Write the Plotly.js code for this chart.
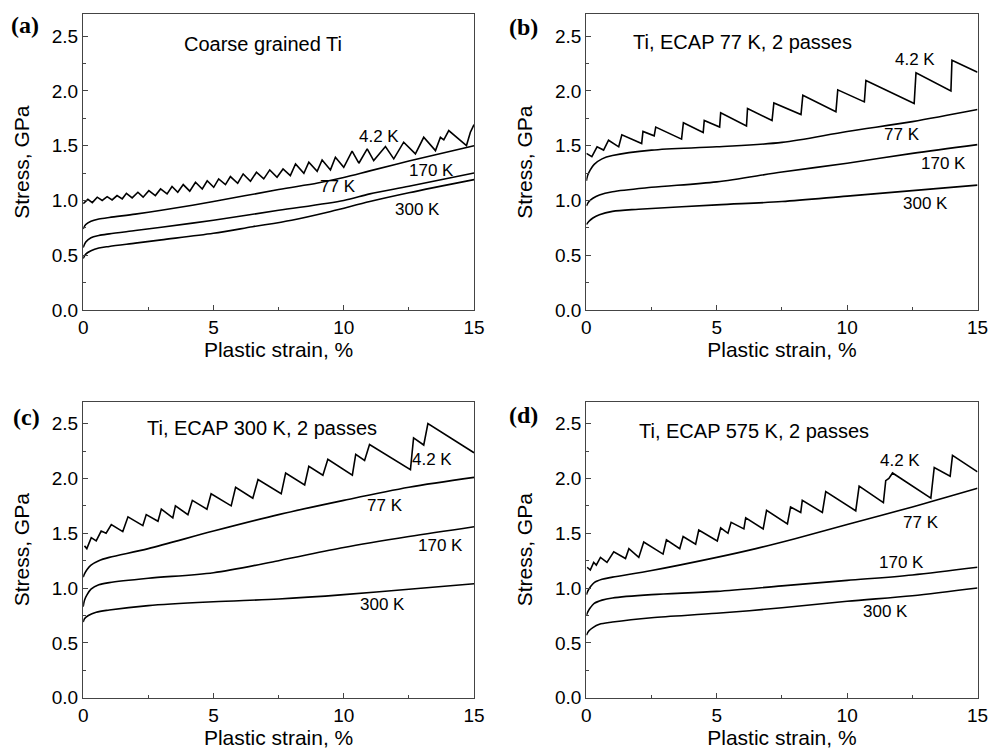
<!DOCTYPE html>
<html>
<head>
<meta charset="utf-8">
<script src="https://cdn.plot.ly/plotly-3.0.1.min.js"></script>
<style>html,body{margin:0;padding:0;background:#fff;}#chart{width:989px;height:752px;}</style>
</head>
<body>
<div id="chart"></div>
<script>
// ---------- Panel (a): Coarse grained Ti ----------
const a_x_300 = [0, 0.1, 0.3, 0.6, 1, 2, 3, 5, 6.5, 8, 9.5, 11, 12.5, 15];
const a_y_300 = [0.47, 0.51, 0.54, 0.565, 0.58, 0.61, 0.64, 0.70, 0.76, 0.82, 0.90, 0.99, 1.07, 1.19];
const a_x_170 = [0, 0.1, 0.3, 0.6, 1, 2, 3, 5, 7.5, 10, 11, 12.5, 15];
const a_y_170 = [0.57, 0.62, 0.66, 0.68, 0.695, 0.725, 0.755, 0.82, 0.91, 1.00, 1.06, 1.13, 1.25];
const a_x_77 = [0, 0.1, 0.3, 0.6, 1, 2, 3, 5, 7.5, 9, 10, 11, 12.5, 15];
const a_y_77 = [0.74, 0.78, 0.81, 0.83, 0.845, 0.875, 0.91, 0.99, 1.10, 1.16, 1.21, 1.27, 1.36, 1.50];
const a_x_4 = [0, 0.18, 0.35, 0.54, 0.73, 0.92, 1.11, 1.30, 1.50, 1.66, 1.88, 2.10, 2.30, 2.52, 2.77, 2.97, 3.22, 3.41, 3.63, 3.84, 4.09, 4.31, 4.57, 4.76, 5.01, 5.20, 5.46, 5.65, 5.93, 6.14, 6.42, 6.65, 6.93, 7.16, 7.44, 7.67, 7.95, 8.15, 8.47, 8.66, 8.98, 9.17, 9.49, 9.68, 10.0, 10.32, 10.58, 10.90, 11.15, 11.60, 11.92, 12.30, 12.75, 13.07, 13.52, 13.71, 13.84, 14.03, 14.71, 14.86, 15.0];
const a_y_4 = [0.97, 1.01, 0.98, 1.03, 1.00, 1.035, 1.005, 1.045, 1.015, 1.065, 1.023, 1.075, 1.03, 1.09, 1.045, 1.105, 1.06, 1.127, 1.075, 1.145, 1.085, 1.166, 1.105, 1.18, 1.12, 1.197, 1.145, 1.218, 1.157, 1.242, 1.175, 1.258, 1.197, 1.279, 1.212, 1.288, 1.227, 1.334, 1.248, 1.349, 1.267, 1.37, 1.279, 1.395, 1.303, 1.45, 1.34, 1.471, 1.364, 1.492, 1.38, 1.532, 1.425, 1.577, 1.455, 1.577, 1.553, 1.638, 1.501, 1.623, 1.693];

// ---------- Panel (b): Ti, ECAP 77 K, 2 passes ----------
const b_x_300 = [0, 0.1, 0.25, 0.5, 1, 2, 5, 7.5, 10, 12.5, 15];
const b_y_300 = [0.78, 0.81, 0.84, 0.87, 0.90, 0.92, 0.96, 0.99, 1.04, 1.09, 1.14];
const b_x_170 = [0, 0.1, 0.25, 0.5, 1, 2.5, 5, 7.5, 10, 12.5, 15];
const b_y_170 = [0.95, 0.99, 1.02, 1.05, 1.08, 1.12, 1.17, 1.26, 1.34, 1.43, 1.51];
const b_x_77 = [0, 0.05, 0.15, 0.3, 0.6, 1, 2.5, 5, 7.5, 10, 12.5, 15];
const b_y_77 = [1.18, 1.23, 1.28, 1.33, 1.38, 1.41, 1.46, 1.49, 1.53, 1.63, 1.72, 1.83];
const b_x_4 = [0, 0.21, 0.41, 0.66, 0.85, 1.24, 1.36, 2.12, 2.17, 2.60, 2.66, 3.65, 3.72, 4.48, 4.52, 5.11, 5.15, 6.14, 6.18, 7.12, 7.19, 8.23, 8.30, 9.57, 9.64, 10.66, 10.72, 12.57, 12.64, 13.98, 14.02, 15.0];
const b_y_4 = [1.43, 1.40, 1.49, 1.46, 1.55, 1.49, 1.60, 1.52, 1.63, 1.59, 1.67, 1.56, 1.71, 1.62, 1.73, 1.67, 1.80, 1.68, 1.84, 1.73, 1.89, 1.785, 1.96, 1.81, 2.01, 1.90, 2.095, 1.885, 2.165, 2.00, 2.28, 2.17];

// ---------- Panel (c): Ti, ECAP 300 K, 2 passes ----------
const c_x_300 = [0, 0.05, 0.2, 0.5, 1, 2.5, 5, 7.5, 10, 12.5, 15];
const c_y_300 = [0.69, 0.72, 0.75, 0.78, 0.80, 0.84, 0.875, 0.90, 0.94, 0.99, 1.04];
const c_x_170 = [0, 0.05, 0.15, 0.3, 0.6, 1, 2.5, 5, 7.5, 10, 12.5, 15];
const c_y_170 = [0.83, 0.89, 0.94, 0.99, 1.03, 1.05, 1.09, 1.14, 1.25, 1.37, 1.47, 1.56];
const c_x_77 = [0, 0.05, 0.15, 0.3, 0.6, 1, 2.5, 5, 7.5, 10, 12.5, 15];
const c_y_77 = [1.10, 1.13, 1.17, 1.21, 1.25, 1.28, 1.36, 1.52, 1.67, 1.80, 1.92, 2.01];
const c_x_4 = [0.05, 0.14, 0.31, 0.50, 0.69, 0.88, 1.08, 1.52, 1.72, 2.29, 2.42, 2.87, 3.00, 3.44, 3.54, 4.02, 4.19, 4.75, 4.91, 5.68, 5.85, 6.51, 6.71, 7.60, 7.77, 8.50, 8.66, 9.20, 9.39, 10.33, 10.46, 10.80, 10.99, 12.56, 12.68, 13.07, 13.23, 15.0];
const c_y_4 = [1.385, 1.36, 1.46, 1.43, 1.52, 1.50, 1.58, 1.515, 1.65, 1.57, 1.67, 1.61, 1.72, 1.64, 1.75, 1.67, 1.80, 1.72, 1.86, 1.75, 1.92, 1.82, 1.99, 1.86, 2.05, 1.94, 2.11, 2.03, 2.175, 2.03, 2.22, 2.165, 2.31, 2.08, 2.37, 2.305, 2.50, 2.235];

// ---------- Panel (d): Ti, ECAP 575 K, 2 passes ----------
const d_x_300 = [0, 0.1, 0.25, 0.5, 1, 2.5, 5, 7.5, 10, 12.5, 15];
const d_y_300 = [0.57, 0.61, 0.64, 0.67, 0.69, 0.73, 0.77, 0.82, 0.88, 0.93, 1.00];
const d_x_170 = [0, 0.05, 0.15, 0.3, 0.6, 1, 2.5, 5, 7.5, 10, 12.5, 15];
const d_y_170 = [0.75, 0.78, 0.82, 0.86, 0.89, 0.91, 0.94, 0.97, 1.02, 1.07, 1.12, 1.19];
const d_x_77 = [0, 0.05, 0.15, 0.3, 0.6, 1, 2.5, 5, 6.5, 8, 10, 12.5, 15];
const d_y_77 = [0.94, 0.97, 1.01, 1.05, 1.08, 1.10, 1.16, 1.28, 1.36, 1.45, 1.58, 1.74, 1.91];
const d_x_4 = [0.03, 0.15, 0.28, 0.38, 0.54, 0.79, 1.05, 1.50, 1.63, 2.01, 2.20, 2.94, 3.07, 3.58, 3.71, 4.19, 4.31, 5.02, 5.15, 5.43, 5.55, 6.04, 6.11, 6.78, 6.91, 7.71, 7.83, 8.22, 8.28, 9.05, 9.18, 10.33, 10.46, 11.39, 11.48, 11.60, 11.74, 13.21, 13.34, 13.95, 14.04, 15.0];
const d_y_4 = [1.19, 1.165, 1.235, 1.21, 1.28, 1.235, 1.33, 1.27, 1.36, 1.28, 1.42, 1.31, 1.44, 1.36, 1.47, 1.40, 1.53, 1.43, 1.55, 1.50, 1.60, 1.54, 1.64, 1.54, 1.71, 1.585, 1.74, 1.69, 1.80, 1.69, 1.88, 1.705, 1.93, 1.78, 1.98, 2.00, 2.05, 1.82, 2.10, 2.02, 2.21, 2.06];

// ---------- Text ----------
const panelTitles = ["Coarse grained Ti", "Ti, ECAP 77 K, 2 passes", "Ti, ECAP 300 K, 2 passes", "Ti, ECAP 575 K, 2 passes"];
const panelLetters = ["(a)", "(b)", "(c)", "(d)"];
const tempLabels = ["4.2 K", "77 K", "170 K", "300 K"];
const xTickVals = [0, 5, 10, 15];
const yTickVals = [0, 0.5, 1.0, 1.5, 2.0, 2.5];

// label positions [x, y] per panel, order 4.2, 77, 170, 300
const labelPos = [
  [[11.37, 1.58], [9.79, 1.13], [13.36, 1.27], [12.83, 0.92]],
  [[12.62, 2.29], [12.12, 1.60], [13.69, 1.34], [13.0, 0.97]],
  [[13.39, 2.17], [11.57, 1.755], [13.71, 1.39], [11.47, 0.85]],
  [[12.02, 2.16], [12.83, 1.60], [12.1, 1.235], [11.48, 0.785]]
];
const titlePos = [[6.92, 2.43], [6.0, 2.45], [6.87, 2.46], [6.43, 2.43]];

const panels = [
  [[a_x_4, a_y_4], [a_x_77, a_y_77], [a_x_170, a_y_170], [a_x_300, a_y_300]],
  [[b_x_4, b_y_4], [b_x_77, b_y_77], [b_x_170, b_y_170], [b_x_300, b_y_300]],
  [[c_x_4, c_y_4], [c_x_77, c_y_77], [c_x_170, c_y_170], [c_x_300, c_y_300]],
  [[d_x_4, d_y_4], [d_x_77, d_y_77], [d_x_170, d_y_170], [d_x_300, d_y_300]]
];

const FONT = "Liberation Sans, Arial, Helvetica, sans-serif";
const traces = [];
const annotations = [];
panels.forEach((p, i) => {
  const xa = i === 0 ? 'x' : 'x' + (i + 1);
  const ya = i === 0 ? 'y' : 'y' + (i + 1);
  p.forEach((s, j) => {
    traces.push({
      x: s[0], y: s[1], xaxis: xa, yaxis: ya, type: 'scatter', mode: 'lines',
      name: tempLabels[j], showlegend: false, hoverinfo: 'x+y',
      line: {color: '#000', width: 1.6, shape: j === 0 ? 'linear' : 'spline', smoothing: 0.9}
    });
    annotations.push({
      xref: xa, yref: ya, x: labelPos[i][j][0], y: labelPos[i][j][1], text: tempLabels[j],
      showarrow: false, font: {family: FONT, size: 17, color: '#000'}
    });
  });
  annotations.push({
    xref: xa, yref: ya, x: titlePos[i][0], y: titlePos[i][1], text: panelTitles[i],
    showarrow: false, font: {family: FONT, size: 20, color: '#000'}
  });
});
const letterPos = [[25, 25], [523, 27], [26, 417], [523, 415]];
letterPos.forEach((pos, i) => {
  annotations.push({
    xref: 'paper', yref: 'paper', x: pos[0] / 989, y: 1 - pos[1] / 752,
    xanchor: 'center', yanchor: 'middle', text: '<b>' + panelLetters[i] + '</b>', showarrow: false,
    font: {family: "Liberation Serif, Times New Roman, serif", size: 24, color: '#000'}
  });
});

const xDom = [[0.0841, 0.4793], [0.5929, 0.9884]];
const yDom = [[0.5878, 0.981], [0.0722, 0.4658]];

function xAxis(dom, anchor) {
  return {
    domain: dom, anchor: anchor, range: [0, 15], tickvals: xTickVals,
    ticks: 'inside', ticklen: 5, tickwidth: 1, tickcolor: '#444',
    minor: {ticks: 'inside', dtick: 2.5, tick0: 0, ticklen: 3, tickcolor: '#444'},
    showline: true, linecolor: '#444', linewidth: 1.2, mirror: true,
    showgrid: false, zeroline: false,
    tickfont: {family: FONT, size: 19, color: '#000'},
    title: {text: 'Plastic strain, %', font: {family: FONT, size: 21, color: '#000'}, standoff: 5}
  };
}
function yAxis(dom, anchor) {
  return {
    domain: dom, anchor: anchor, range: [0, 2.7], tickvals: yTickVals, tickformat: '.1f',
    ticks: 'inside', ticklen: 5, tickwidth: 1, tickcolor: '#444',
    minor: {ticks: 'inside', dtick: 0.25, tick0: 0, ticklen: 3, tickcolor: '#444'},
    showline: true, linecolor: '#444', linewidth: 1.2, mirror: true,
    showgrid: false, zeroline: false,
    tickfont: {family: FONT, size: 19, color: '#000'},
    title: {text: 'Stress, GPa', font: {family: FONT, size: 21, color: '#000'}, standoff: 16}
  };
}

const layout = {
  width: 989, height: 752,
  margin: {l: 0, r: 0, t: 0, b: 0},
  paper_bgcolor: '#fff', plot_bgcolor: '#fff',
  showlegend: false,
  xaxis: xAxis(xDom[0], 'y'), yaxis: yAxis(yDom[0], 'x'),
  xaxis2: xAxis(xDom[1], 'y2'), yaxis2: yAxis(yDom[0], 'x2'),
  xaxis3: xAxis(xDom[0], 'y3'), yaxis3: yAxis(yDom[1], 'x3'),
  xaxis4: xAxis(xDom[1], 'y4'), yaxis4: yAxis(yDom[1], 'x4'),
  annotations: annotations
};

Plotly.newPlot('chart', traces, layout, {staticPlot: true, displayModeBar: false});
</script>
</body>
</html>
